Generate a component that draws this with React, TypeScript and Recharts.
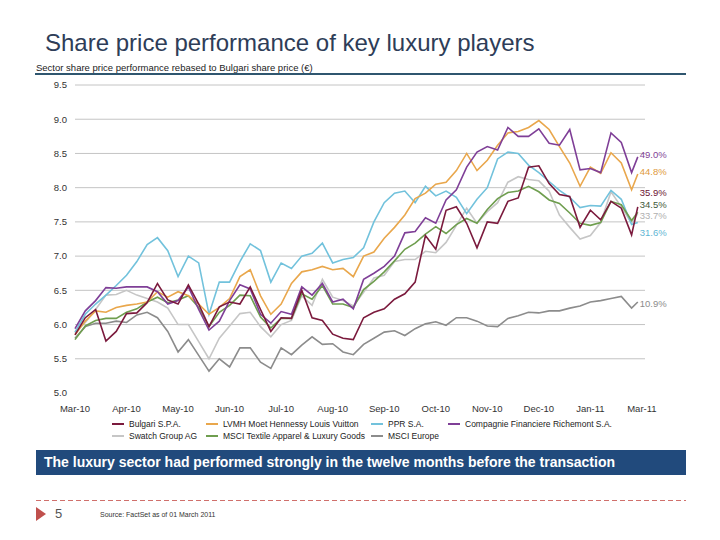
import { LineChart, Line, XAxis, YAxis, CartesianGrid } from "recharts";

// time position in "month label" units (0 = Mar-10)
const weeks = [
  0, 0.2, 0.4, 0.6, 0.8, 1, 1.2, 1.4, 1.6, 1.8, 2, 2.2, 2.4, 2.6, 2.8, 3, 3.2, 3.4, 3.6, 3.8,
  4, 4.2, 4.4, 4.6, 4.8, 5, 5.2, 5.4, 5.6, 5.8, 6, 6.2, 6.4, 6.6, 6.8, 7, 7.2, 7.4, 7.6, 7.8,
  8, 8.2, 8.4, 8.6, 8.8, 9, 9.2, 9.4, 9.6, 9.8, 10, 10.2, 10.4, 10.6, 10.8, 10.92,
];

const monthLabels = [
  "Mar-10", "Apr-10", "May-10", "Jun-10", "Jul-10", "Aug-10",
  "Sep-10", "Oct-10", "Nov-10", "Dec-10", "Jan-11", "Mar-11",
];
const monthTicks = [0, 1, 2, 3, 4, 5, 6, 7, 8, 9, 10, 11];
const yTicks = [5.0, 5.5, 6.0, 6.5, 7.0, 7.5, 8.0, 8.5, 9.0, 9.5];
const gridValues = [5.5, 6.0, 6.5, 7.0, 7.5, 8.0, 8.5, 9.0, 9.5];

const bulgari = [
  5.85, 6.1, 6.22, 5.76, 5.9, 6.16, 6.17, 6.32, 6.6, 6.36, 6.3, 6.58, 6.3, 5.97, 6.26, 6.33, 6.3, 6.55, 6.22, 5.9,
  6.1, 6.09, 6.5, 6.1, 6.06, 5.86, 5.8, 5.78, 6.1, 6.18, 6.23, 6.37, 6.45, 6.62, 7.3, 7.1, 7.67, 7.72, 7.48, 7.12,
  7.5, 7.48, 7.8, 7.85, 8.3, 8.32, 8.06, 7.9, 7.87, 7.42, 7.67, 7.53, 7.8, 7.7, 7.31, 7.72,
];
const lvmh = [
  5.85, 6.05, 6.2, 6.18, 6.25, 6.28, 6.3, 6.33, 6.48, 6.4, 6.48, 6.42, 6.3, 6.15, 6.25, 6.38, 6.7, 6.8, 6.42, 6.15,
  6.3, 6.6, 6.77, 6.8, 6.85, 6.8, 6.82, 6.7, 7.0, 7.06, 7.26, 7.42, 7.6, 7.84, 7.92, 8.05, 8.08, 8.25, 8.5, 8.25,
  8.4, 8.62, 8.8, 8.82, 8.88, 8.98, 8.85, 8.6, 8.36, 8.02, 8.3, 8.21, 8.51, 8.36, 7.97, 8.2,
];
const ppr = [
  5.89, 6.15, 6.3, 6.43, 6.57, 6.72, 6.92, 7.17, 7.27, 7.08, 6.7, 7.0, 6.9, 6.15, 6.62, 6.62, 6.92, 7.18, 7.08, 6.62,
  6.9, 6.82, 7.0, 7.04, 7.19, 6.9, 6.95, 6.98, 7.12, 7.5, 7.78, 7.92, 7.95, 7.78, 8.02, 7.88, 7.95, 7.86, 7.62, 7.83,
  8.0, 8.42, 8.52, 8.5, 8.33, 8.22, 8.09, 7.96, 7.86, 7.71, 7.74, 7.73, 7.96, 7.83, 7.46, 7.49,
];
const richemont = [
  5.94, 6.2, 6.35, 6.54, 6.53, 6.55, 6.55, 6.55, 6.48, 6.3, 6.35, 6.55, 6.22, 5.92, 6.05, 6.35, 6.58, 6.52, 6.15, 6.02,
  6.19, 6.15, 6.55, 6.43, 6.6, 6.33, 6.37, 6.23, 6.66, 6.75, 6.85, 7.0, 7.34, 7.36, 7.56, 7.48, 7.82, 7.97, 8.3, 8.52,
  8.6, 8.55, 8.88, 8.75, 8.75, 8.86, 8.65, 8.62, 8.85, 8.26, 8.28, 8.22, 8.8, 8.66, 8.22, 8.45,
];
const swatch = [
  5.88, 6.03, 6.22, 6.43, 6.44, 6.5, 6.43, 6.38, 6.33, 6.24, 6.0, 6.0, 5.75, 5.5, 5.8, 5.98, 6.16, 6.18, 5.97, 5.82,
  6.0, 6.06, 6.42, 6.28, 6.66, 6.4, 6.35, 6.27, 6.47, 6.68, 6.72, 6.92, 6.95, 6.95, 7.07, 7.05, 7.2, 7.45, 7.7, 7.48,
  7.65, 7.78, 8.08, 8.16, 8.12, 8.1, 7.95, 7.6, 7.42, 7.25, 7.3, 7.49, 7.94, 7.72, 7.48, 7.62,
];
const msciTextile = [
  5.78, 5.98, 6.06, 6.09, 6.09, 6.18, 6.23, 6.33, 6.4, 6.32, 6.36, 6.42, 6.25, 5.97, 6.18, 6.28, 6.43, 6.42, 6.11, 5.95,
  6.09, 6.09, 6.45, 6.37, 6.57, 6.3, 6.3, 6.25, 6.51, 6.63, 6.77, 6.93, 7.1, 7.19, 7.32, 7.43, 7.33, 7.46, 7.55, 7.48,
  7.68, 7.84, 7.93, 7.95, 8.02, 7.94, 7.82, 7.77, 7.63, 7.48, 7.45, 7.49, 7.8, 7.75, 7.52, 7.64,
];
const msciEurope = [
  5.8, 5.97, 6.02, 6.02, 6.05, 6.03, 6.14, 6.18, 6.1, 5.9, 5.6, 5.78, 5.55, 5.32, 5.5, 5.38, 5.66, 5.66, 5.45, 5.36,
  5.66, 5.56, 5.7, 5.82, 5.71, 5.72, 5.6, 5.56, 5.71, 5.8, 5.89, 5.91, 5.84, 5.94, 6.01, 6.04, 5.99, 6.1, 6.1, 6.05,
  5.98, 5.97, 6.09, 6.13, 6.18, 6.17, 6.2, 6.2, 6.24, 6.27, 6.33, 6.35, 6.38, 6.41, 6.24, 6.33,
];

const data = weeks.map((t, i) => ({
  t,
  bulgari: bulgari[i],
  lvmh: lvmh[i],
  ppr: ppr[i],
  richemont: richemont[i],
  swatch: swatch[i],
  msciTextile: msciTextile[i],
  msciEurope: msciEurope[i],
}));

// drawing order: first is at the back
const series = [
  { key: "msciEurope", name: "MSCI Europe", color: "#8c8c8c", end: "10.9%", endColor: "#8c8c8c", dy: 2 },
  { key: "swatch", name: "Swatch Group AG", color: "#c6c6c6", end: "33.7%", endColor: "#b0b0b0", dy: 2 },
  { key: "ppr", name: "PPR S.A.", color: "#72c2dc", end: "31.6%", endColor: "#5fb6d4", dy: 10 },
  { key: "msciTextile", name: "MSCI Textile Apparel & Luxury Goods", color: "#6f9e4f", end: "34.5%", endColor: "#3f5a3a", dy: -8 },
  { key: "lvmh", name: "LVMH Moet Hennessy Louis Vuitton", color: "#e9a74c", end: "44.8%", endColor: "#e09a3c", dy: -2 },
  { key: "richemont", name: "Compagnie Financiere Richemont S.A.", color: "#7f3f97", end: "49.0%", endColor: "#7f3f97", dy: -2 },
  { key: "bulgari", name: "Bulgari S.P.A.", color: "#7b1a3d", end: "35.9%", endColor: "#6b1232", dy: -14 },
];

const legendRows = [
  ["bulgari", "lvmh", "ppr", "richemont"],
  ["swatch", "msciTextile", "msciEurope"],
];
const legendCols = [112, 206, 371, 448];

const font = "'Liberation Sans', Arial, sans-serif";

const endLabel = (text: string, color: string, dy: number) => (props: any) => {
  const { x, y, index } = props;
  if (index !== weeks.length - 1) return null;
  return (
    <text x={x + 2} y={y + dy} dy="0.35em" fill={color} fontSize={9.5} fontFamily={font}>
      {text}
    </text>
  );
};

export default function App() {
  return (
    <div style={{ position: "absolute", left: 0, top: 0, width: 720, height: 540, background: "#fff", fontFamily: font, overflow: "hidden" }}>
      <div style={{ position: "absolute", left: 45, top: 29, fontSize: 24, color: "#2e3d58", whiteSpace: "nowrap" }}>
        Share price performance of key luxury players
      </div>
      <div style={{ position: "absolute", left: 36, top: 62, fontSize: 9.5, color: "#222", whiteSpace: "nowrap" }}>
        Sector share price performance rebased to Bulgari share price (€)
      </div>
      <div style={{ position: "absolute", left: 35, top: 73, width: 651, height: 2, background: "#2f566f" }} />

      <div style={{ position: "absolute", left: 0, top: 75 }}>
        <LineChart width={720} height={348} data={data} margin={{ top: 10, right: 75, bottom: 0, left: 0 }}>
          <CartesianGrid horizontal vertical={false} stroke="#c4c4c4" horizontalValues={gridValues} />
          <XAxis
            dataKey="t"
            type="number"
            domain={[0, 11.06]}
            ticks={monthTicks}
            tickFormatter={(v: number) => monthLabels[Math.round(v)] ?? ""}
            axisLine={false}
            tickLine={false}
            tickMargin={6}
            interval={0}
            height={30}
            tick={{ fontSize: 9.5, fill: "#333", fontFamily: font }}
          />
          <YAxis
            type="number"
            domain={[5, 9.5]}
            ticks={yTicks}
            tickFormatter={(v: number) => v.toFixed(1)}
            axisLine={false}
            tickLine={false}
            width={75}
            interval={0}
            tick={{ fontSize: 9.5, fill: "#333", fontFamily: font }}
          />
          {series.map((s) => (
            <Line
              key={s.key}
              type="linear"
              dataKey={s.key}
              name={s.name}
              stroke={s.color}
              strokeWidth={1.6}
              dot={false}
              isAnimationActive={false}
              label={endLabel(s.end, s.endColor, s.dy)}
            />
          ))}
        </LineChart>
      </div>

      {legendRows.map((row, r) =>
        row.map((k, c) => {
          const s = series.find((x) => x.key === k)!;
          return (
            <div
              key={k}
              style={{ position: "absolute", left: legendCols[c], top: 418 + r * 12, height: 12, display: "flex", alignItems: "center", whiteSpace: "nowrap", fontSize: 8.5, color: "#222" }}
            >
              <span style={{ display: "inline-block", width: 12, height: 2, background: s.color, marginRight: 5 }} />
              {s.name}
            </div>
          );
        })
      )}

      <div style={{ position: "absolute", left: 36, top: 450, width: 650, height: 25, background: "#214a7c", color: "#fff", fontWeight: "bold", fontSize: 14, lineHeight: "25px", paddingLeft: 8, boxSizing: "border-box", whiteSpace: "nowrap" }}>
        The luxury sector had performed strongly in the twelve months before the transaction
      </div>

      <div style={{ position: "absolute", left: 36, top: 500, width: 650, height: 1, background: "repeating-linear-gradient(90deg, #d0706c 0 5px, transparent 5px 8px)" }} />
      <div style={{ position: "absolute", left: 36, top: 507, width: 0, height: 0, borderTop: "7.5px solid transparent", borderBottom: "7.5px solid transparent", borderLeft: "10px solid #c0504d" }} />
      <div style={{ position: "absolute", left: 55, top: 506, fontSize: 13, color: "#555" }}>5</div>
      <div style={{ position: "absolute", left: 100, top: 511, fontSize: 7, color: "#333", whiteSpace: "nowrap" }}>
        Source: FactSet as of 01 March 2011
      </div>
    </div>
  );
}
